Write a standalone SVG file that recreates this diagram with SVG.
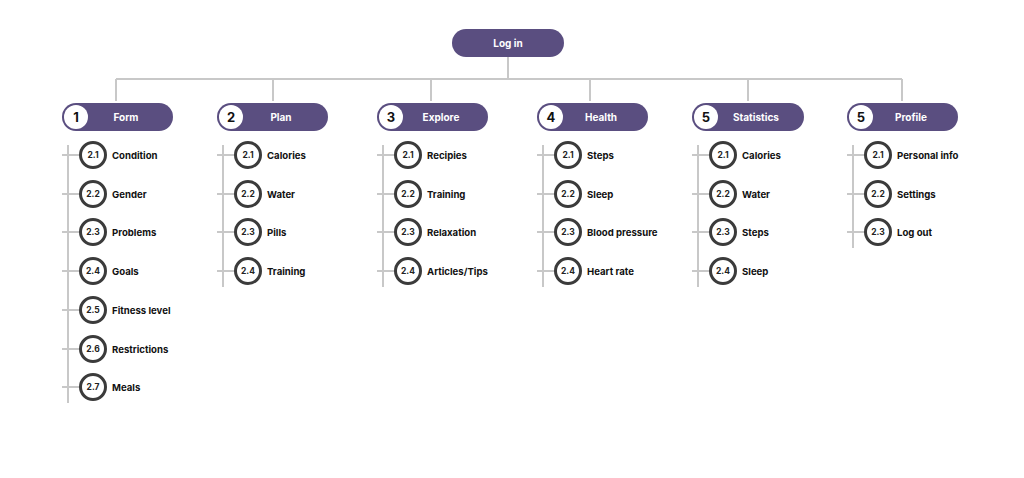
<svg xmlns="http://www.w3.org/2000/svg" width="1024" height="478" viewBox="0 0 1024 478">
<style>
.bg{fill:#ffffff}
.ln{stroke:#c8c8c8;stroke-width:2;fill:none}
.pill{fill:#5a4e80}
.pc{fill:#ffffff}
.pn{font-family:Inter,"Liberation Sans",sans-serif;font-weight:700;font-size:13px;fill:#111111;text-anchor:middle}
.pt{font-family:Inter,"Liberation Sans",sans-serif;font-weight:700;font-size:10px;fill:#ffffff;text-anchor:middle}
.cc{fill:#ffffff;stroke:#3b3b3b;stroke-width:3}
.cn{font-family:Inter,"Liberation Sans",sans-serif;font-weight:700;font-size:8.5px;fill:#222222;text-anchor:middle}
.lb{font-family:Inter,"Liberation Sans",sans-serif;font-weight:700;font-size:9.6px;fill:#111111}
</style>
<rect class="bg" x="0" y="0" width="1024" height="478"/>
<g id="connectors">
<path class="ln" d="M508 57V79M116 79H902M116 79V101M273 79V101M431 79V101M590 79V101M748 79V101M902 79V101"/>
<path class="ln" d="M68 145V403M62 155H80M62 194H80M62 232H80M62 271H80M62 310H80M62 349H80M62 387H80"/>
<path class="ln" d="M223 145V287M217 155H235M217 194H235M217 232H235M217 271H235"/>
<path class="ln" d="M383 145V287M377 155H395M377 194H395M377 232H395M377 271H395"/>
<path class="ln" d="M543 145V287M537 155H555M537 194H555M537 232H555M537 271H555"/>
<path class="ln" d="M698 145V287M692 155H710M692 194H710M692 232H710M692 271H710"/>
<path class="ln" d="M853 145V248M847 155H865M847 194H865M847 232H865"/>
</g>
<g id="login">
<rect class="pill" x="452" y="29" width="112" height="28" rx="14"/>
<text class="pt" x="508" y="47">Log in</text>
</g>
<g id="form">
<rect class="pill" x="62" y="103" width="111" height="28" rx="14"/>
<circle class="pc" cx="76" cy="117" r="12"/>
<text class="pn" x="76" y="122">1</text>
<text class="pt" x="126" y="121">Form</text>
</g>
<g id="form-items">
<g id="f1"><circle class="cc" cx="93" cy="155" r="12.5"/><text class="cn" x="93" y="158">2.1</text><text class="lb" x="112" y="159">Condition</text></g>
<g id="f2"><circle class="cc" cx="93" cy="194" r="12.5"/><text class="cn" x="93" y="197">2.2</text><text class="lb" x="112" y="198">Gender</text></g>
<g id="f3"><circle class="cc" cx="93" cy="232" r="12.5"/><text class="cn" x="93" y="235">2.3</text><text class="lb" x="112" y="236">Problems</text></g>
<g id="f4"><circle class="cc" cx="93" cy="271" r="12.5"/><text class="cn" x="93" y="274">2.4</text><text class="lb" x="112" y="275">Goals</text></g>
<g id="f5"><circle class="cc" cx="93" cy="310" r="12.5"/><text class="cn" x="93" y="313">2.5</text><text class="lb" x="112" y="314">Fitness level</text></g>
<g id="f6"><circle class="cc" cx="93" cy="349" r="12.5"/><text class="cn" x="93" y="352">2.6</text><text class="lb" x="112" y="353">Restrictions</text></g>
<g id="f7"><circle class="cc" cx="93" cy="387" r="12.5"/><text class="cn" x="93" y="390">2.7</text><text class="lb" x="112" y="391">Meals</text></g>
</g>
<g id="plan">
<rect class="pill" x="217" y="103" width="111" height="28" rx="14"/>
<circle class="pc" cx="231" cy="117" r="12"/>
<text class="pn" x="231" y="122">2</text>
<text class="pt" x="281" y="121">Plan</text>
</g>
<g id="plan-items">
<g id="p1"><circle class="cc" cx="248" cy="155" r="12.5"/><text class="cn" x="248" y="158">2.1</text><text class="lb" x="267" y="159">Calories</text></g>
<g id="p2"><circle class="cc" cx="248" cy="194" r="12.5"/><text class="cn" x="248" y="197">2.2</text><text class="lb" x="267" y="198">Water</text></g>
<g id="p3"><circle class="cc" cx="248" cy="232" r="12.5"/><text class="cn" x="248" y="235">2.3</text><text class="lb" x="267" y="236">Pills</text></g>
<g id="p4"><circle class="cc" cx="248" cy="271" r="12.5"/><text class="cn" x="248" y="274">2.4</text><text class="lb" x="267" y="275">Training</text></g>
</g>
<g id="explore">
<rect class="pill" x="377" y="103" width="111" height="28" rx="14"/>
<circle class="pc" cx="391" cy="117" r="12"/>
<text class="pn" x="391" y="122">3</text>
<text class="pt" x="441" y="121">Explore</text>
</g>
<g id="explore-items">
<g id="e1"><circle class="cc" cx="408" cy="155" r="12.5"/><text class="cn" x="408" y="158">2.1</text><text class="lb" x="427" y="159">Recipies</text></g>
<g id="e2"><circle class="cc" cx="408" cy="194" r="12.5"/><text class="cn" x="408" y="197">2.2</text><text class="lb" x="427" y="198">Training</text></g>
<g id="e3"><circle class="cc" cx="408" cy="232" r="12.5"/><text class="cn" x="408" y="235">2.3</text><text class="lb" x="427" y="236">Relaxation</text></g>
<g id="e4"><circle class="cc" cx="408" cy="271" r="12.5"/><text class="cn" x="408" y="274">2.4</text><text class="lb" x="427" y="275">Articles/Tips</text></g>
</g>
<g id="health">
<rect class="pill" x="537" y="103" width="111" height="28" rx="14"/>
<circle class="pc" cx="551" cy="117" r="12"/>
<text class="pn" x="551" y="122">4</text>
<text class="pt" x="601" y="121">Health</text>
</g>
<g id="health-items">
<g id="h1"><circle class="cc" cx="568" cy="155" r="12.5"/><text class="cn" x="568" y="158">2.1</text><text class="lb" x="587" y="159">Steps</text></g>
<g id="h2"><circle class="cc" cx="568" cy="194" r="12.5"/><text class="cn" x="568" y="197">2.2</text><text class="lb" x="587" y="198">Sleep</text></g>
<g id="h3"><circle class="cc" cx="568" cy="232" r="12.5"/><text class="cn" x="568" y="235">2.3</text><text class="lb" x="587" y="236">Blood pressure</text></g>
<g id="h4"><circle class="cc" cx="568" cy="271" r="12.5"/><text class="cn" x="568" y="274">2.4</text><text class="lb" x="587" y="275">Heart rate</text></g>
</g>
<g id="statistics">
<rect class="pill" x="692" y="103" width="112" height="28" rx="14"/>
<circle class="pc" cx="706" cy="117" r="12"/>
<text class="pn" x="706" y="122">5</text>
<text class="pt" x="756" y="121">Statistics</text>
</g>
<g id="statistics-items">
<g id="s1"><circle class="cc" cx="723" cy="155" r="12.5"/><text class="cn" x="723" y="158">2.1</text><text class="lb" x="742" y="159">Calories</text></g>
<g id="s2"><circle class="cc" cx="723" cy="194" r="12.5"/><text class="cn" x="723" y="197">2.2</text><text class="lb" x="742" y="198">Water</text></g>
<g id="s3"><circle class="cc" cx="723" cy="232" r="12.5"/><text class="cn" x="723" y="235">2.3</text><text class="lb" x="742" y="236">Steps</text></g>
<g id="s4"><circle class="cc" cx="723" cy="271" r="12.5"/><text class="cn" x="723" y="274">2.4</text><text class="lb" x="742" y="275">Sleep</text></g>
</g>
<g id="profile">
<rect class="pill" x="847" y="103" width="111" height="28" rx="14"/>
<circle class="pc" cx="861" cy="117" r="12"/>
<text class="pn" x="861" y="122">5</text>
<text class="pt" x="911" y="121">Profile</text>
</g>
<g id="profile-items">
<g id="r1"><circle class="cc" cx="878" cy="155" r="12.5"/><text class="cn" x="878" y="158">2.1</text><text class="lb" x="897" y="159">Personal info</text></g>
<g id="r2"><circle class="cc" cx="878" cy="194" r="12.5"/><text class="cn" x="878" y="197">2.2</text><text class="lb" x="897" y="198">Settings</text></g>
<g id="r3"><circle class="cc" cx="878" cy="232" r="12.5"/><text class="cn" x="878" y="235">2.3</text><text class="lb" x="897" y="236">Log out</text></g>
</g>
</svg>
